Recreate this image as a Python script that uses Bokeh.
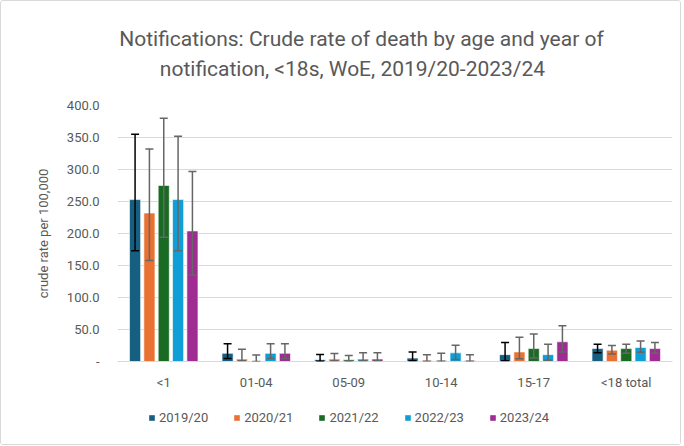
from bokeh.plotting import figure
from bokeh.layouts import column
from bokeh.models import (ColumnDataSource, Range1d, FactorRange, FixedTicker, Whisker,
                          TeeHead, Legend, LegendItem, Label)
from bokeh.transform import dodge
from bokeh.embed import file_html
from bokeh.resources import INLINE

# ---- data ----
categories = ["<1", "01-04", "05-09", "10-14", "15-17", "<18 total"]
years = ["2019/20", "2020/21", "2021/22", "2022/23", "2023/24"]

rate_2019 = [253.0, 12.7, 2.7, 5.3, 10.7, 20.2]
low_2019 = [173.0, 4.8, 0.5, 1.0, 1.0, 13.8]
up_2019 = [355.0, 27.6, 11.0, 15.0, 29.8, 27.0]

rate_2020 = [232.0, 3.8, 3.8, 1.6, 14.9, 17.6]
low_2020 = [158.0, 1.0, 1.0, 0.3, 4.3, 11.7]
up_2020 = [332.0, 19.0, 12.5, 10.6, 37.8, 25.0]

rate_2021 = [275.0, 0.0, 2.7, 1.6, 20.2, 20.2]
low_2021 = [194.0, 0.0, 0.5, 0.3, 5.3, 12.8]
up_2021 = [380.0, 10.0, 9.5, 12.8, 43.0, 27.0]

rate_2022 = [253.0, 12.7, 3.8, 13.5, 10.7, 21.9]
low_2022 = [173.0, 4.8, 1.0, 3.0, 2.0, 14.5]
up_2022 = [352.0, 27.6, 13.5, 25.5, 27.0, 32.0]

rate_2023 = [204.0, 12.7, 3.8, 1.6, 30.8, 20.2]
low_2023 = [135.0, 4.8, 1.0, 0.3, 14.9, 12.8]
up_2023 = [297.0, 27.6, 13.5, 10.6, 55.8, 29.8]

y_ticks = [0, 50, 100, 150, 200, 250, 300, 350, 400]
y_tick_labels = ["-", "50.0", "100.0", "150.0", "200.0", "250.0", "300.0", "350.0", "400.0"]

title_lines = ["Notifications: Crude rate of death by age and year of",
               "notification, <18s, WoE, 2019/20-2023/24"]
y_title = "crude rate per 100,000"

series = [
    (years[0], rate_2019, low_2019, up_2019),
    (years[1], rate_2020, low_2020, up_2020),
    (years[2], rate_2021, low_2021, up_2021),
    (years[3], rate_2022, low_2022, up_2022),
    (years[4], rate_2023, low_2023, up_2023),
]

colors = ["#156082", "#E97132", "#196B24", "#0F9ED5", "#A02B93"]
err_colors = ["#000000", "#666666", "#666666", "#666666", "#666666"]
offsets = [-0.31, -0.155, 0.0, 0.155, 0.31]
FONT = "Roboto"
GREY = "#595959"
W = 679

sources = [ColumnDataSource(dict(cat=categories, val=v, low=lo, up=hi))
           for (_, v, lo, hi) in series]

# ---- title strip (frame is aligned with the chart frame: page x 117..672) ----
TH = 94
pt = figure(width=W, height=TH, x_range=Range1d(117, 672), y_range=Range1d(0, TH),
            x_axis_type=None, y_axis_type=None, output_backend="svg", toolbar_location=None,
            min_border=0, outline_line_color=None)
pt.grid.visible = False
for line, xx, yy in zip(title_lines, [361, 352], [TH - 37, TH - 67]):
    pt.add_layout(Label(x=xx, y=yy, text=line, text_align="center", text_baseline="middle",
                        text_font=FONT, text_font_size="21px", text_color=GREY))

# ---- main chart ----
p = figure(x_range=FactorRange(*categories, range_padding=0), y_range=Range1d(0, 400),
           frame_width=555, frame_height=256, output_backend="svg", toolbar_location=None,
           min_border_left=116, min_border_top=10, min_border_right=8, min_border_bottom=30,
           title=None)
p.outline_line_color = None

for i, src in enumerate(sources):
    p.vbar(x=dodge("cat", offsets[i], range=p.x_range), top="val", width=0.12,
           source=src, fill_color=colors[i], line_color="white", line_width=0.6)
    w = Whisker(source=src, base=dodge("cat", offsets[i], range=p.x_range),
                upper="up", lower="low", line_color=err_colors[i], line_width=1.5,
                upper_head=TeeHead(size=8, line_color=err_colors[i], line_width=1.5),
                lower_head=TeeHead(size=8, line_color=err_colors[i], line_width=1.5),
                level="overlay")
    p.add_layout(w)

p.yaxis.ticker = FixedTicker(ticks=y_ticks)
p.yaxis.major_label_overrides = {t: l for t, l in zip(y_ticks, y_tick_labels)}
p.yaxis.axis_line_color = None
p.yaxis.major_tick_line_color = None
p.yaxis.minor_tick_line_color = None
p.yaxis.major_label_standoff = 12
p.yaxis.major_label_text_font = FONT
p.yaxis.major_label_text_font_size = "13px"
p.yaxis.major_label_text_color = GREY
p.yaxis.axis_label = y_title
p.yaxis.axis_label_text_font = FONT
p.yaxis.axis_label_text_font_size = "13px"
p.yaxis.axis_label_text_font_style = "normal"
p.yaxis.axis_label_text_color = GREY
p.yaxis.axis_label_standoff = 13

p.xaxis.axis_line_color = "#d9d9d9"
p.xaxis.major_tick_line_color = None
p.xaxis.minor_tick_line_color = None
p.xaxis.major_label_standoff = 7
p.xaxis.major_label_text_font = FONT
p.xaxis.major_label_text_font_size = "13px"
p.xaxis.major_label_text_color = GREY

p.xgrid.grid_line_color = None
p.ygrid.grid_line_color = "#d9d9d9"
p.ygrid.grid_line_width = 1

# ---- legend strip (its bars are hidden, only the legend swatches show) ----
LH = 52
pl = figure(width=W, height=LH, x_range=FactorRange(*categories, range_padding=0),
            y_range=Range1d(1000, 1001),
            x_axis_type=None, y_axis_type=None, output_backend="svg", toolbar_location=None,
            min_border=0, outline_line_color=None)
pl.grid.visible = False
items = []
for i, name in enumerate(years):
    r = pl.vbar(x=dodge("cat", offsets[i], range=pl.x_range), top="val", width=0.12,
                source=sources[i], fill_color=colors[i], line_color=None, visible=False)
    items.append(LegendItem(label=name, renderers=[r]))
legend = Legend(items=items, orientation="horizontal", location=(31, 19),
                glyph_width=7, glyph_height=7, label_standoff=4, spacing=25,
                label_height=14, inactive_fill_alpha=0,
                label_text_font=FONT, label_text_font_size="13px", label_text_color=GREY,
                border_line_color=None, background_fill_alpha=0, padding=0, margin=0)
pl.add_layout(legend, "center")

layout = column(pt, p, pl, spacing=0,
                styles={"border": "1px solid #d9d9d9", "border-radius": "3px"})

open("out.html", "w").write(file_html(layout, INLINE))
